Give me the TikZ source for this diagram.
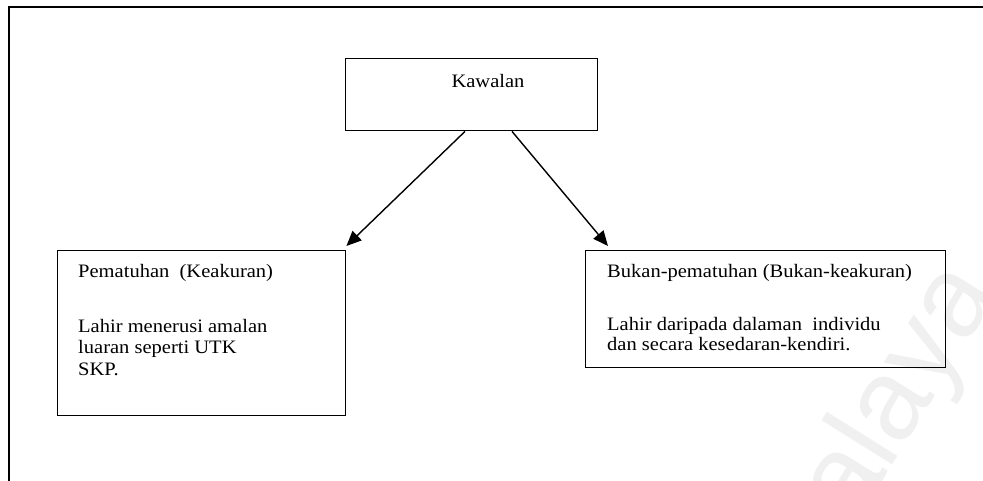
\documentclass[tikz,border=0pt]{standalone}
\usepackage{fontspec}
\setmainfont[FakeStretch=1.08]{Liberation Serif}
\newfontfamily\wmfont{Liberation Sans}
\usetikzlibrary{arrows.meta}

\begin{document}
\begin{tikzpicture}[x=1pt,y=-1pt,
  box/.style={draw, line width=1.4pt, inner sep=0pt, anchor=north west},
  lbl/.style={font=\fontsize{19}{21.5}\selectfont, align=left, inner sep=0pt},
  link/.style={line width=1.4pt, -{Triangle[length=15pt,width=13pt]}},
  frame/.style={line width=2pt}]
\useasboundingbox (0,0) rectangle (983,481);

% faint watermark in the lower right corner
\node[font=\wmfont\fontsize{115}{115}\selectfont, text=black!6, rotate=58,
      anchor=base east, inner sep=0pt] (wm) at (1000,292) {Malaya};

% page frame (top and left edges)
\coordinate (fbl) at (8.5,482);
\coordinate (ftl) at (8.5,7);
\coordinate (ftr) at (984,7);
\draw[frame] (fbl) -- (ftl) -- (ftr);

% boxes
\node[box, minimum width=252pt, minimum height=72pt] (kawalan) at (345,58) {};
\node[box, minimum width=288pt, minimum height=165pt] (patuh) at (57,250) {};
\node[box, minimum width=360pt, minimum height=117pt] (bukan) at (585,250) {};

% texts (multi-line nodes are placed by the baseline of their last line)
\node[lbl, anchor=base] (tkawalan) at (488,87.5) {Kawalan};
\node[lbl, anchor=base west] (tpatuh) at (78,278) {Pematuhan\ \ (Keakuran)};
\node[lbl, anchor=base west] (tpatuhb) at (78,375)
  {Lahir menerusi amalan\\luaran seperti UTK\\SKP.};
\node[lbl, anchor=base west] (tbukan) at (607,277) {Bukan-pematuhan (Bukan-keakuran)};
\node[lbl, anchor=base west, font=\fontsize{19}{20.7}\selectfont] (tbukanb) at (607,350.7)
  {Lahir daripada dalaman\ \ individu\\dan secara kesedaran-kendiri.};

% connectors
\draw[link] ([xshift=120pt]kawalan.south west) -- ([yshift=4pt]patuh.north east);
\draw[link] ([xshift=167pt]kawalan.south west) -- ([xshift=23pt,yshift=4pt]bukan.north west);
\end{tikzpicture}
\end{document}
